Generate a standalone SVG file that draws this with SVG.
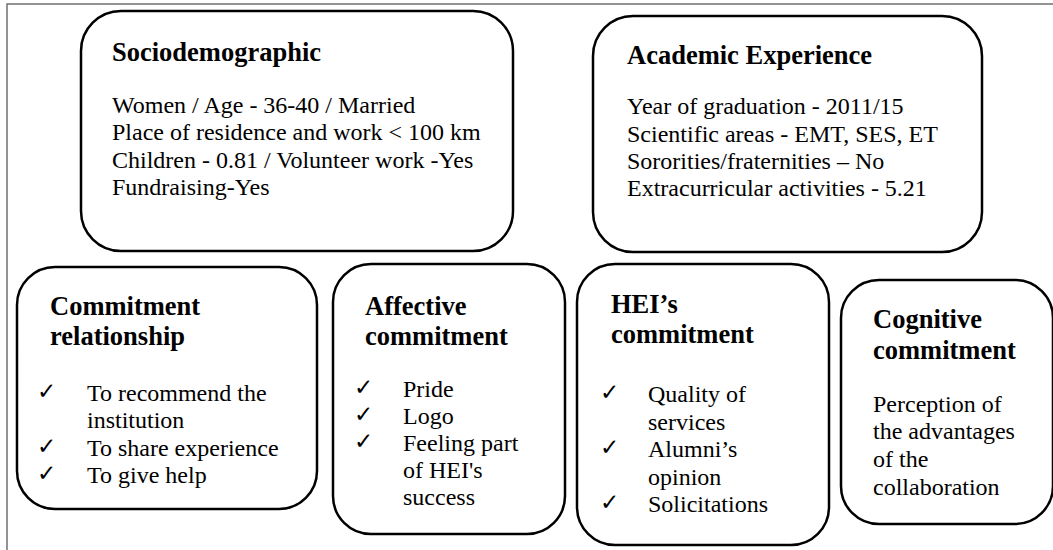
<svg xmlns="http://www.w3.org/2000/svg" width="1053" height="550" viewBox="0 0 1053 550">
<style>
.box{fill:#fff;stroke:#000;stroke-width:2.5}
.t{font-family:"Liberation Serif","Times New Roman",serif;font-size:26.5px;font-weight:bold;fill:#000}
.b{font-family:"Liberation Serif","Times New Roman",serif;font-size:24px;fill:#000}
.c{font-family:"DejaVu Sans",sans-serif;font-size:23px;fill:#000}
.frame{stroke:#707070;stroke-width:1.5;fill:none}
</style>
<rect width="1053" height="550" fill="#fff"/>
<path class="frame" d="M7,550 V4 H1053"/>
<g id="connectors"></g>
<g id="sociodemographic">
<rect class="box" x="81" y="11" width="432" height="240" rx="40" ry="40"/>
<text class="t" x="112" y="61">Sociodemographic</text>
<text class="b" x="112" y="112.5">Women / Age - 36-40 / Married</text>
<text class="b" x="112" y="140">Place of residence and work &lt; 100 km</text>
<text class="b" x="112" y="168">Children - 0.81 / Volunteer work -Yes</text>
<text class="b" x="112" y="195">Fundraising-Yes</text>
</g>
<g id="academic">
<rect class="box" x="593" y="16" width="389" height="236" rx="40" ry="40"/>
<text class="t" x="627" y="64">Academic Experience</text>
<text class="b" x="627" y="114">Year of graduation - 2011/15</text>
<text class="b" x="627" y="142">Scientific areas - EMT, SES, ET</text>
<text class="b" x="627" y="169">Sororities/fraternities – No</text>
<text class="b" x="627" y="196">Extracurricular activities - 5.21</text>
</g>
<g id="commitment-relationship">
<rect class="box" x="17" y="267" width="300" height="242" rx="38" ry="38"/>
<text class="t" x="50" y="315">Commitment</text>
<text class="t" x="50" y="345">relationship</text>
<text class="c" x="37" y="399">✓</text>
<text class="b" x="87" y="401">To recommend the</text>
<text class="b" x="87" y="428">institution</text>
<text class="c" x="37" y="454">✓</text>
<text class="b" x="87" y="456">To share experience</text>
<text class="c" x="37" y="481">✓</text>
<text class="b" x="87" y="483">To give help</text>
</g>
<g id="affective-commitment">
<rect class="box" x="333" y="264" width="232" height="270" rx="38" ry="38"/>
<text class="t" x="365" y="315">Affective</text>
<text class="t" x="365" y="345">commitment</text>
<text class="c" x="354" y="395">✓</text>
<text class="b" x="403" y="397">Pride</text>
<text class="c" x="354" y="422">✓</text>
<text class="b" x="403" y="424">Logo</text>
<text class="c" x="354" y="449">✓</text>
<text class="b" x="403" y="451">Feeling part</text>
<text class="b" x="403" y="478">of HEI's</text>
<text class="b" x="403" y="505">success</text>
</g>
<g id="hei-commitment">
<rect class="box" x="577" y="264" width="252" height="281" rx="38" ry="38"/>
<text class="t" x="611" y="313">HEI’s</text>
<text class="t" x="611" y="343">commitment</text>
<text class="c" x="600" y="400">✓</text>
<text class="b" x="648" y="402">Quality of</text>
<text class="b" x="648" y="430">services</text>
<text class="c" x="600" y="455">✓</text>
<text class="b" x="648" y="457">Alumni’s</text>
<text class="b" x="648" y="485">opinion</text>
<text class="c" x="600" y="510">✓</text>
<text class="b" x="648" y="512">Solicitations</text>
</g>
<g id="cognitive-commitment">
<rect class="box" x="841" y="280" width="212" height="244" rx="38" ry="38"/>
<text class="t" x="873" y="328">Cognitive</text>
<text class="t" x="873" y="359">commitment</text>
<text class="b" x="873" y="412">Perception of</text>
<text class="b" x="873" y="439">the advantages</text>
<text class="b" x="873" y="467">of the</text>
<text class="b" x="873" y="495">collaboration</text>
</g>
</svg>
